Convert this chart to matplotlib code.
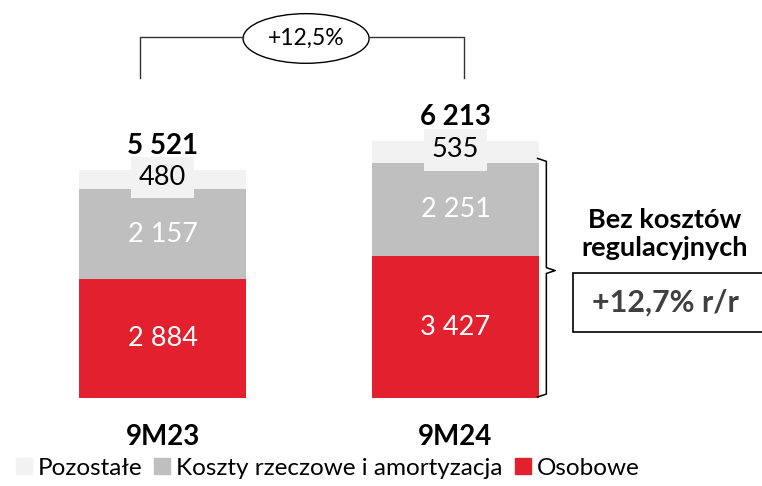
import matplotlib.pyplot as plt
from matplotlib.patches import Ellipse, Rectangle
from matplotlib.lines import Line2D

categories = ['9M23', '9M24']
osobowe = [2884, 3427]
rzeczowe = [2157, 2251]
pozostale = [480, 535]
totals = [5521, 6213]
labels_legend = ['Pozostałe', 'Koszty rzeczowe i amortyzacja', 'Osobowe']
growth_label = '+12,5%'
note_title = 'Bez kosztów\nregulacyjnych'
note_value = '+12,7% r/r'

RED = '#E3202E'
GRAY = '#BFBFBF'
LIGHT = '#F2F2F2'
plt.rcParams['font.family'] = ['Lato', 'DejaVu Sans']


def fmt(v):
    return '{:,}'.format(v).replace(',', ' ')


fig = plt.figure(figsize=(7.62, 4.86), dpi=100)
ax = fig.add_axes([0, 0, 1, 1])
ax.set_xlim(-0.5546, 2.046)
ax.set_ylim(-2127, 9620)
ax.axis('off')

x = [0, 1]
w = 0.57
ax.bar(x, osobowe, w, color=RED)
ax.bar(x, rzeczowe, w, bottom=osobowe, color=GRAY)
bottoms = [a + b for a, b in zip(osobowe, rzeczowe)]
ax.bar(x, pozostale, w, bottom=bottoms, color=LIGHT)

for i in range(2):
    ax.text(x[i], osobowe[i] / 2, fmt(osobowe[i]), ha='center', va='center',
            color='white', fontsize=19.5)
    ax.text(x[i], osobowe[i] + rzeczowe[i] / 2, fmt(rzeczowe[i]), ha='center',
            va='center', color='white', fontsize=19.5)
    ax.text(x[i], bottoms[i] + pozostale[i] / 2 + 50, fmt(pozostale[i]), ha='center',
            va='center', color='black', fontsize=19.5,
            bbox=dict(boxstyle='square,pad=0.3', fc=LIGHT, ec='none'))
    ax.text(x[i], totals[i] + 580, fmt(totals[i]), ha='center', va='center',
            color='black', fontsize=20, fontweight='bold')
    ax.text(x[i], -950, categories[i], ha='center', va='center',
            color='black', fontsize=20, fontweight='bold')

# growth bracket
y_top = 8720
x0, x1 = -0.077, 1.03
ex, ew = 0.49, 0.43
ax.add_line(Line2D([x0, x0, ex - ew / 2], [7730, y_top, y_top], color='#333333', lw=1))
ax.add_line(Line2D([ex + ew / 2, x1, x1], [y_top, y_top, 7730], color='#333333', lw=1))
ax.add_patch(Ellipse((ex, y_top - 30), ew, 1200, fc='white', ec='black', lw=1))
ax.text(ex, y_top - 30, growth_label, ha='center', va='center', fontsize=16.5)

# curly brace
bx = 1.31
ytop_b, ybot_b, ymid = 5790, 25, 3080
ax.plot([bx - 0.03, bx, bx, bx + 0.03, bx, bx, bx - 0.03],
        [ytop_b, ytop_b - 70, ymid + 70, ymid, ymid - 70, ybot_b + 70, ybot_b],
        color='black', lw=1.1)

ax.text(1.715, 3960, note_title, ha='center', va='center', fontsize=19.5,
        fontweight='bold', linespacing=1.2)
ax.add_patch(Rectangle((1.4, 1590), 0.7, 1430, fc='white', ec='black', lw=1.2))
ax.text(1.715, 2310, note_value, ha='center', va='center', fontsize=22,
        fontweight='bold', color='#404040')

# legend
handles = [Rectangle((0, 0), 1, 1, color=c) for c in (LIGHT, GRAY, RED)]
fig.legend(handles, labels_legend, loc='lower left', bbox_to_anchor=(0.008, -0.005),
           borderaxespad=0.0, ncol=3, frameon=False, handlelength=0.65, handleheight=0.65,
           handletextpad=0.25, columnspacing=0.5, prop={'size': 17.5})

fig.savefig('out.png', dpi=100)
